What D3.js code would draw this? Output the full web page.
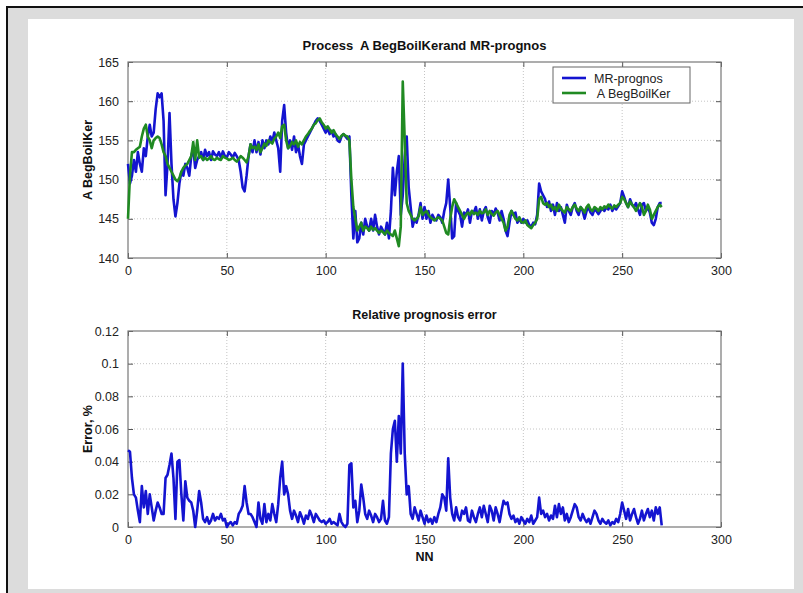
<!DOCTYPE html>
<html>
<head>
<meta charset="utf-8">
<script src="https://cdn.jsdelivr.net/npm/d3@7"></script>
<style>
  body { margin: 0; background: #fff; }
  svg text { font-family: "Liberation Sans", Arial, sans-serif; white-space: pre; }
</style>
</head>
<body>
<div id="chart"></div>
<script>
// sample numbers NN = 0..270
var nnMax = 270;

// A BegBoilKer (green, measured)
var begBoilKer = [
  145.0,150.5,153.5,153.5,153.8,154.0,154.2,155.5,156.5,157.0,
  155.5,155.0,154.0,155.0,155.3,155.5,155.3,154.5,153.5,153.0,
  152.0,151.5,151.0,150.5,150.0,149.8,150.2,151.0,151.5,151.8,
  152.0,152.5,153.0,154.8,152.5,155.0,152.8,153.0,152.5,152.8,
  152.5,152.7,153.0,152.6,152.5,152.8,152.6,152.5,153.0,152.8,
  152.7,152.5,152.6,152.8,152.5,152.3,152.6,153.0,152.8,152.5,
  152.2,153.0,154.5,154.0,154.2,153.8,154.5,153.5,154.0,154.6,
  154.3,155.0,154.8,154.6,155.2,155.5,156.0,155.3,156.8,157.0,
  155.0,154.0,154.3,154.8,154.5,155.0,154.2,154.8,154.5,155.0,
  155.5,155.8,156.2,156.5,157.0,157.2,157.6,157.8,157.3,157.0,
  156.5,156.8,156.4,156.0,156.3,155.8,155.5,155.2,155.6,155.8,
  155.6,155.5,155.0,150.0,146.5,145.0,143.5,144.0,144.5,143.5,
  144.0,143.8,143.5,144.0,143.6,143.8,143.5,143.2,143.5,143.3,
  143.0,143.5,143.2,143.0,142.8,143.5,142.5,141.5,144.0,162.5,
  155.0,147.0,146.0,145.5,145.0,144.8,145.0,145.3,146.5,145.5,
  145.8,146.0,145.5,145.2,145.0,144.8,145.0,145.2,145.0,144.8,
  144.0,143.2,143.0,145.0,146.5,147.5,147.0,146.5,146.0,145.5,
  145.0,145.5,145.8,145.5,146.0,145.6,145.8,145.5,146.0,145.7,
  145.8,146.2,145.5,146.0,145.6,145.4,145.8,146.0,145.5,145.0,
  144.5,143.5,144.0,145.5,146.0,145.5,145.0,144.8,145.2,144.6,
  144.5,144.8,144.2,144.0,143.8,144.2,144.5,145.0,147.5,147.8,
  147.0,146.8,147.0,146.5,146.8,146.2,146.5,146.0,146.8,146.3,
  146.0,145.8,146.5,146.2,146.0,146.5,146.8,146.3,146.0,146.5,
  146.2,145.8,146.5,146.8,146.2,146.0,146.5,146.3,146.0,146.5,
  146.2,146.6,146.4,146.8,146.5,146.3,146.7,146.5,146.8,147.0,
  147.8,147.5,147.0,146.5,147.2,146.8,146.5,146.0,146.5,147.0,
  146.5,145.5,146.0,146.8,146.2,145.0,145.5,146.0,146.5,146.8,
  146.5
];

// MR-prognos (blue, forecast)
var mrPrognos = [
  152.0,149.5,150.5,152.5,151.0,153.5,152.0,151.0,154.0,153.0,
  155.5,157.0,155.5,156.0,159.0,161.0,160.5,161.0,157.5,148.0,
  152.0,158.5,152.0,147.5,145.3,147.0,149.5,151.0,150.5,152.0,
  151.5,150.5,153.0,154.0,151.5,152.5,153.0,153.5,152.5,153.8,
  153.0,153.5,152.5,153.6,153.2,153.0,153.5,152.8,153.6,153.0,
  152.8,153.5,153.2,152.8,153.4,153.0,152.5,151.0,149.0,148.5,
  150.5,153.0,154.5,153.5,155.0,153.5,154.8,153.2,155.0,154.0,
  155.0,154.5,155.5,154.8,156.0,155.0,154.0,151.0,157.5,159.5,
  156.0,154.0,155.0,153.8,155.5,153.5,154.5,153.0,152.0,154.5,
  155.0,155.5,156.0,156.5,157.0,157.5,157.8,157.5,157.0,156.5,
  156.0,156.5,155.8,156.2,155.5,155.8,155.0,154.8,155.5,155.8,
  155.5,155.2,155.5,148.0,142.5,146.0,142.0,142.5,144.5,143.0,
  145.0,144.0,143.5,145.0,143.5,145.5,144.0,143.0,144.0,143.5,
  143.0,144.5,142.5,146.0,151.5,148.0,151.0,153.0,145.5,148.0,
  153.0,155.5,149.0,146.5,144.0,145.0,144.5,145.5,147.0,145.0,
  146.5,145.0,146.0,144.5,145.5,145.0,144.8,145.5,145.2,144.5,
  146.0,147.0,150.0,146.5,142.5,142.8,147.0,146.0,145.5,144.0,
  145.8,145.5,146.2,144.5,146.0,145.8,146.5,145.0,146.2,144.8,
  146.0,146.5,145.2,144.5,146.0,145.5,146.3,145.8,144.8,146.0,
  145.0,143.5,142.8,144.5,146.0,145.5,145.8,144.5,145.0,144.5,
  145.0,144.5,144.8,144.2,144.0,144.5,144.3,145.5,149.5,148.5,
  148.0,147.5,146.5,147.2,146.0,146.8,145.5,147.0,146.0,146.5,
  145.5,144.5,146.8,146.0,145.5,146.5,147.0,146.0,145.5,146.5,
  146.0,145.0,146.0,146.5,145.8,145.5,146.2,146.0,145.6,146.0,
  146.3,146.0,146.5,146.2,146.8,146.0,146.5,146.2,146.6,147.0,
  148.5,147.8,147.0,146.5,147.5,146.8,146.5,147.0,146.2,145.5,
  146.8,147.0,146.0,146.5,145.8,144.5,144.2,145.0,146.5,147.0,
  147.0
];

// Relative prognosis error
var relError = [
  0.047,0.046,0.030,0.020,0.018,0.010,0.003,0.025,0.012,0.022,
  0.008,0.020,0.012,0.004,0.010,0.015,0.012,0.008,0.008,0.030,
  0.032,0.038,0.045,0.030,0.005,0.040,0.041,0.020,0.004,0.028,
  0.018,0.016,0.015,0.010,0.000,0.010,0.022,0.015,0.005,0.003,
  0.006,0.002,0.004,0.008,0.004,0.006,0.005,0.008,0.004,0.005,
  0.000,0.002,0.003,0.001,0.003,0.002,0.008,0.010,0.013,0.025,
  0.015,0.008,0.008,0.006,0.003,0.000,0.015,0.005,0.002,0.014,
  0.003,0.008,0.004,0.014,0.008,0.003,0.014,0.030,0.040,0.020,
  0.025,0.020,0.010,0.005,0.010,0.007,0.003,0.009,0.006,0.002,
  0.007,0.005,0.010,0.007,0.003,0.008,0.006,0.004,0.003,0.004,
  0.002,0.003,0.005,0.002,0.003,0.002,0.001,0.008,0.003,0.001,
  0.000,0.002,0.038,0.039,0.012,0.016,0.003,0.010,0.026,0.018,
  0.008,0.005,0.010,0.007,0.003,0.008,0.006,0.003,0.005,0.016,
  0.004,0.002,0.006,0.045,0.060,0.065,0.040,0.068,0.045,0.100,
  0.045,0.020,0.025,0.008,0.005,0.012,0.008,0.004,0.010,0.006,
  0.002,0.007,0.003,0.005,0.002,0.006,0.003,0.008,0.012,0.020,
  0.018,0.010,0.042,0.018,0.008,0.004,0.012,0.006,0.004,0.010,
  0.008,0.012,0.004,0.003,0.010,0.006,0.003,0.008,0.012,0.006,
  0.013,0.008,0.003,0.013,0.010,0.004,0.012,0.008,0.003,0.010,
  0.016,0.014,0.015,0.008,0.005,0.007,0.003,0.005,0.002,0.006,
  0.004,0.002,0.005,0.003,0.007,0.002,0.004,0.006,0.018,0.008,
  0.010,0.006,0.008,0.004,0.007,0.005,0.013,0.006,0.014,0.008,
  0.012,0.004,0.008,0.003,0.006,0.010,0.014,0.012,0.006,0.004,
  0.008,0.005,0.003,0.005,0.002,0.006,0.010,0.008,0.004,0.002,
  0.005,0.003,0.002,0.004,0.001,0.003,0.002,0.005,0.003,0.008,
  0.015,0.010,0.005,0.011,0.004,0.008,0.011,0.006,0.002,0.005,
  0.010,0.004,0.008,0.011,0.006,0.010,0.004,0.012,0.008,0.012,
  0.001
];

var xTicks = [0, 50, 100, 150, 200, 250, 300];
var yTicksTop = [140, 145, 150, 155, 160, 165];
var yTicksBottom = [0, 0.02, 0.04, 0.06, 0.08, 0.1, 0.12];
var legendNames = ["MR-prognos", " A BegBoilKer"];

var width = 803, height = 593;
var blue = "#1414d0", green = "#208a22";

var svg = d3.select("#chart").append("svg")
    .attr("width", width)
    .attr("height", height);

// figure frame: gray border, white panel
svg.append("rect").attr("x", 0).attr("y", 0).attr("width", width).attr("height", height).attr("fill", "#fff");
svg.append("rect").attr("x", 8).attr("y", 8).attr("width", width - 8).attr("height", height - 8).attr("fill", "#dcdcdc");
svg.append("path").attr("d", "M7,593V7H803").attr("fill", "none").attr("stroke", "#111").attr("stroke-width", 2);
svg.append("rect").attr("x", 28).attr("y", 19).attr("width", 766).attr("height", 570).attr("fill", "#fff");

var x = d3.scaleLinear().domain([0, 300]).range([128, 721]);

function drawAxes(yScale, yTicks, fmt, top, bottom) {
    var g = svg.append("g");
    // grid
    g.selectAll(".gx").data(xTicks.slice(1, -1)).enter().append("line")
        .attr("x1", d => x(d)).attr("x2", d => x(d))
        .attr("y1", top).attr("y2", bottom)
        .attr("stroke", "#c4c4c4").attr("stroke-dasharray", "1,2");
    g.selectAll(".gy").data(yTicks.slice(1, -1)).enter().append("line")
        .attr("x1", 128).attr("x2", 721)
        .attr("y1", d => yScale(d)).attr("y2", d => yScale(d))
        .attr("stroke", "#c4c4c4").attr("stroke-dasharray", "1,2");

    // axes with inward ticks on all sides
    var axB = g.append("g").attr("transform", "translate(0," + bottom + ")")
        .call(d3.axisBottom(x).tickValues(xTicks).tickSizeInner(-5).tickSizeOuter(0).tickPadding(8));
    var axT = g.append("g").attr("transform", "translate(0," + top + ")")
        .call(d3.axisTop(x).tickValues(xTicks).tickSizeInner(-5).tickSizeOuter(0).tickFormat(""));
    var axL = g.append("g").attr("transform", "translate(128,0)")
        .call(d3.axisLeft(yScale).tickValues(yTicks).tickSizeInner(-5).tickSizeOuter(0).tickPadding(9).tickFormat(fmt));
    var axR = g.append("g").attr("transform", "translate(721,0)")
        .call(d3.axisRight(yScale).tickValues(yTicks).tickSizeInner(-5).tickSizeOuter(0).tickFormat(""));
    [axB, axT, axL, axR].forEach(function(a) {
        a.select(".domain").remove();
        a.selectAll("line").attr("stroke", "#555");
        a.selectAll("text").attr("fill", "#222").style("font-size", "12.5px");
    });
    g.append("rect").attr("x", 128).attr("y", top).attr("width", 593).attr("height", bottom - top)
        .attr("fill", "none").attr("stroke", "#777").attr("stroke-width", 1.2);
    return g;
}

// ---- top plot ----
var y1 = d3.scaleLinear().domain([140, 165]).range([258, 62]);
drawAxes(y1, yTicksTop, d3.format("d"), 62, 258);

var line1 = d3.line().x((d, i) => x(i)).y(d => y1(d));
svg.append("path").datum(mrPrognos).attr("d", line1)
    .attr("fill", "none").attr("stroke", blue).attr("stroke-width", 2.6).attr("stroke-linejoin", "round");
svg.append("path").datum(begBoilKer).attr("d", line1)
    .attr("fill", "none").attr("stroke", green).attr("stroke-width", 2.6).attr("stroke-linejoin", "round");

svg.append("text").attr("x", 424.5).attr("y", 50).attr("text-anchor", "middle")
    .style("font-size", "13px").style("font-weight", "bold").attr("fill", "#111")
    .text("Process  A BegBoilKerand MR-prognos");
svg.append("text").attr("transform", "translate(92,160) rotate(-90)").attr("text-anchor", "middle")
    .style("font-size", "12.5px").style("font-weight", "bold").attr("fill", "#111")
    .text("A BegBoilKer");

// legend
var legend = svg.append("g").attr("transform", "translate(553,67)");
legend.append("rect").attr("width", 137).attr("height", 36)
    .attr("fill", "#fff").attr("stroke", "#666").attr("stroke-width", 1);
var keys = legend.selectAll(".key").data(legendNames).enter().append("g")
    .attr("transform", (d, i) => "translate(0," + (11 + i * 15) + ")");
keys.append("line").attr("x1", 9).attr("x2", 33)
    .attr("stroke", (d, i) => i == 0 ? blue : green).attr("stroke-width", 2.6);
keys.append("text").attr("x", 41).attr("y", 4.5).style("font-size", "12.5px").attr("fill", "#222")
    .text(d => d);

// ---- bottom plot ----
var y2 = d3.scaleLinear().domain([0, 0.12]).range([527, 331]);
drawAxes(y2, yTicksBottom, d => d === 0 ? "0" : String(+d.toFixed(2)), 331, 527);

var line2 = d3.line().x((d, i) => x(i)).y(d => y2(d));
svg.append("path").datum(relError).attr("d", line2)
    .attr("fill", "none").attr("stroke", blue).attr("stroke-width", 2.6).attr("stroke-linejoin", "round");

svg.append("text").attr("x", 424.5).attr("y", 319).attr("text-anchor", "middle")
    .style("font-size", "12.5px").style("font-weight", "bold").attr("fill", "#111")
    .text("Relative prognosis error");
svg.append("text").attr("transform", "translate(92,429) rotate(-90)").attr("text-anchor", "middle")
    .style("font-size", "12.5px").style("font-weight", "bold").attr("fill", "#111")
    .text("Error, %");
svg.append("text").attr("x", 424.5).attr("y", 561).attr("text-anchor", "middle")
    .style("font-size", "12.5px").style("font-weight", "bold").attr("fill", "#111")
    .text("NN");
</script>
</body>
</html>
